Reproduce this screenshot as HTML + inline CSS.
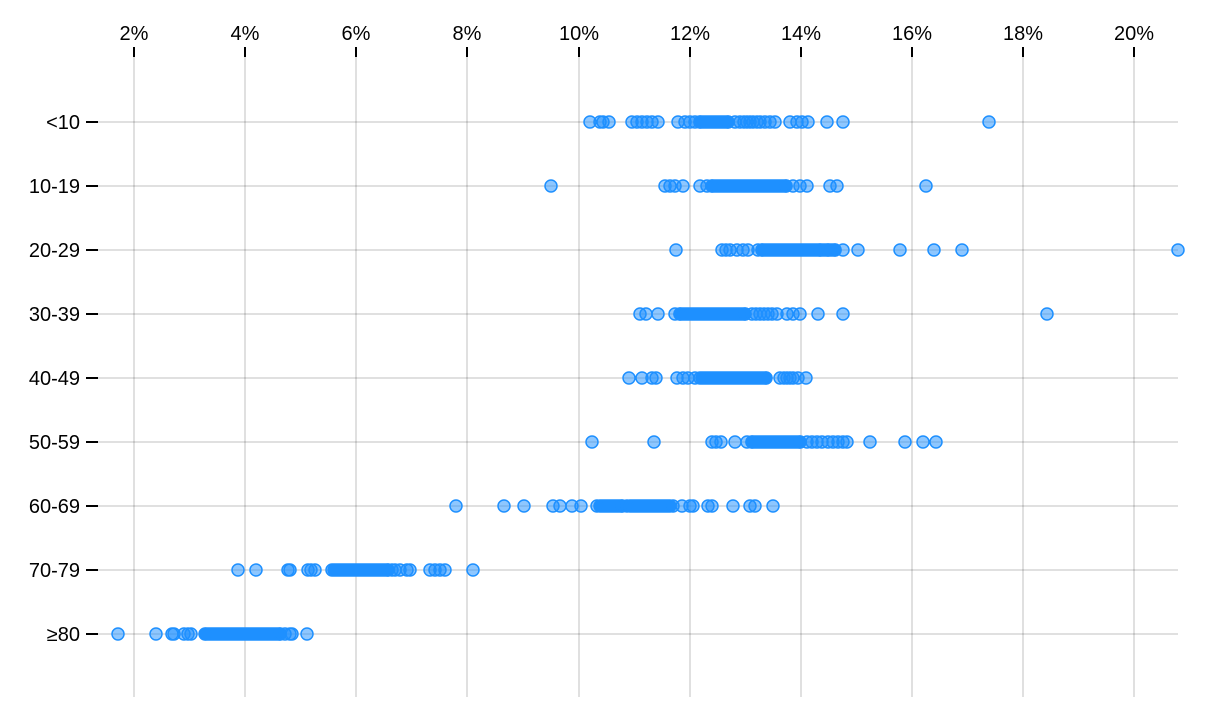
<!DOCTYPE html>
<html>
<head>
<meta charset="utf-8">
<style>
html,body{margin:0;padding:0;background:#fff;}
svg{display:block;}
text{font-family:"Liberation Sans",Arial,sans-serif;font-size:20px;fill:#000;}
.grid line{stroke:#000;stroke-opacity:0.12;stroke-width:2;}
.tick line{stroke:#000;stroke-width:2;}
circle{fill:#1e90ff;fill-opacity:0.5;stroke:#1e90ff;stroke-width:1.5;}
.seg{stroke:#1e90ff;stroke-width:13.5;stroke-linecap:round;}
</style>
</head>
<body>
<svg id="c" width="1216" height="716" viewBox="0 0 1216 716" xmlns="http://www.w3.org/2000/svg">
<g class="grid">
<line x1="134" y1="57" x2="134" y2="697"/>
<line x1="245" y1="57" x2="245" y2="697"/>
<line x1="356" y1="57" x2="356" y2="697"/>
<line x1="467" y1="57" x2="467" y2="697"/>
<line x1="579" y1="57" x2="579" y2="697"/>
<line x1="690" y1="57" x2="690" y2="697"/>
<line x1="801" y1="57" x2="801" y2="697"/>
<line x1="912" y1="57" x2="912" y2="697"/>
<line x1="1023" y1="57" x2="1023" y2="697"/>
<line x1="1134" y1="57" x2="1134" y2="697"/>
<line x1="98" y1="122" x2="1178" y2="122"/>
<line x1="98" y1="186" x2="1178" y2="186"/>
<line x1="98" y1="250" x2="1178" y2="250"/>
<line x1="98" y1="314" x2="1178" y2="314"/>
<line x1="98" y1="378" x2="1178" y2="378"/>
<line x1="98" y1="442" x2="1178" y2="442"/>
<line x1="98" y1="506" x2="1178" y2="506"/>
<line x1="98" y1="570" x2="1178" y2="570"/>
<line x1="98" y1="634" x2="1178" y2="634"/>
</g>
<g class="tick">
<line x1="134" y1="47" x2="134" y2="57"/><text x="134" y="40" text-anchor="middle">2%</text>
<line x1="245" y1="47" x2="245" y2="57"/><text x="245" y="40" text-anchor="middle">4%</text>
<line x1="356" y1="47" x2="356" y2="57"/><text x="356" y="40" text-anchor="middle">6%</text>
<line x1="467" y1="47" x2="467" y2="57"/><text x="467" y="40" text-anchor="middle">8%</text>
<line x1="579" y1="47" x2="579" y2="57"/><text x="579" y="40" text-anchor="middle">10%</text>
<line x1="690" y1="47" x2="690" y2="57"/><text x="690" y="40" text-anchor="middle">12%</text>
<line x1="801" y1="47" x2="801" y2="57"/><text x="801" y="40" text-anchor="middle">14%</text>
<line x1="912" y1="47" x2="912" y2="57"/><text x="912" y="40" text-anchor="middle">16%</text>
<line x1="1023" y1="47" x2="1023" y2="57"/><text x="1023" y="40" text-anchor="middle">18%</text>
<line x1="1134" y1="47" x2="1134" y2="57"/><text x="1134" y="40" text-anchor="middle">20%</text>

<line x1="86" y1="122" x2="98" y2="122"/><text x="80" y="129" text-anchor="end">&lt;10</text>
<line x1="86" y1="186" x2="98" y2="186"/><text x="80" y="193" text-anchor="end">10-19</text>
<line x1="86" y1="250" x2="98" y2="250"/><text x="80" y="257" text-anchor="end">20-29</text>
<line x1="86" y1="314" x2="98" y2="314"/><text x="80" y="321" text-anchor="end">30-39</text>
<line x1="86" y1="378" x2="98" y2="378"/><text x="80" y="385" text-anchor="end">40-49</text>
<line x1="86" y1="442" x2="98" y2="442"/><text x="80" y="449" text-anchor="end">50-59</text>
<line x1="86" y1="506" x2="98" y2="506"/><text x="80" y="513" text-anchor="end">60-69</text>
<line x1="86" y1="570" x2="98" y2="570"/><text x="80" y="577" text-anchor="end">70-79</text>
<line x1="86" y1="634" x2="98" y2="634"/><text x="80" y="641" text-anchor="end">≥80</text>
</g>

<!-- <10 -->
<g>
<line class="seg" x1="700" y1="122" x2="728" y2="122"/>
<circle cx="590" cy="122" r="6"/><circle cx="600" cy="122" r="6"/><circle cx="603" cy="122" r="6"/><circle cx="609" cy="122" r="6"/>
<circle cx="632" cy="122" r="6"/><circle cx="637" cy="122" r="6"/><circle cx="642" cy="122" r="6"/><circle cx="647" cy="122" r="6"/><circle cx="652" cy="122" r="6"/><circle cx="658" cy="122" r="6"/>
<circle cx="678" cy="122" r="6"/><circle cx="685" cy="122" r="6"/><circle cx="690" cy="122" r="6"/><circle cx="695" cy="122" r="6"/><circle cx="700" cy="122" r="6"/><circle cx="728" cy="122" r="6"/>
<circle cx="735" cy="122" r="6"/><circle cx="740" cy="122" r="6"/><circle cx="744" cy="122" r="6"/><circle cx="747" cy="122" r="6"/><circle cx="750" cy="122" r="6"/><circle cx="753" cy="122" r="6"/><circle cx="757" cy="122" r="6"/><circle cx="760" cy="122" r="6"/><circle cx="765" cy="122" r="6"/>
<circle cx="770" cy="122" r="6"/><circle cx="775" cy="122" r="6"/><circle cx="790" cy="122" r="6"/><circle cx="797" cy="122" r="6"/><circle cx="802" cy="122" r="6"/><circle cx="808" cy="122" r="6"/>
<circle cx="827" cy="122" r="6"/><circle cx="843" cy="122" r="6"/><circle cx="989" cy="122" r="6"/>
</g>
<!-- 10-19 -->
<g>
<line class="seg" x1="712" y1="186" x2="786" y2="186"/>
<circle cx="551" cy="186" r="6"/><circle cx="665" cy="186" r="6"/><circle cx="670" cy="186" r="6"/><circle cx="675" cy="186" r="6"/><circle cx="683" cy="186" r="6"/>
<circle cx="700" cy="186" r="6"/><circle cx="707" cy="186" r="6"/><circle cx="712" cy="186" r="6"/><circle cx="786" cy="186" r="6"/>
<circle cx="793" cy="186" r="6"/><circle cx="800" cy="186" r="6"/><circle cx="807" cy="186" r="6"/>
<circle cx="830" cy="186" r="6"/><circle cx="837" cy="186" r="6"/><circle cx="926" cy="186" r="6"/>
</g>
<!-- 20-29 -->
<g>
<line class="seg" x1="762" y1="250" x2="835" y2="250"/>
<circle cx="676" cy="250" r="6"/><circle cx="722" cy="250" r="6"/><circle cx="726" cy="250" r="6"/><circle cx="730" cy="250" r="6"/><circle cx="737" cy="250" r="6"/>
<circle cx="743" cy="250" r="6"/><circle cx="748" cy="250" r="6"/><circle cx="758" cy="250" r="6"/><circle cx="762" cy="250" r="6"/>
<circle cx="820" cy="250" r="6"/><circle cx="828" cy="250" r="6"/><circle cx="835" cy="250" r="6"/>
<circle cx="843" cy="250" r="6"/><circle cx="858" cy="250" r="6"/><circle cx="900" cy="250" r="6"/><circle cx="934" cy="250" r="6"/><circle cx="962" cy="250" r="6"/><circle cx="1178" cy="250" r="6"/>
</g>
<!-- 30-39 -->
<g>
<line class="seg" x1="680" y1="314" x2="745" y2="314"/>
<circle cx="640" cy="314" r="6"/><circle cx="646" cy="314" r="6"/><circle cx="658" cy="314" r="6"/><circle cx="675" cy="314" r="6"/><circle cx="680" cy="314" r="6"/>
<circle cx="745" cy="314" r="6"/><circle cx="752" cy="314" r="6"/><circle cx="756" cy="314" r="6"/><circle cx="760" cy="314" r="6"/><circle cx="764" cy="314" r="6"/><circle cx="768" cy="314" r="6"/><circle cx="772" cy="314" r="6"/><circle cx="777" cy="314" r="6"/>
<circle cx="787" cy="314" r="6"/><circle cx="793" cy="314" r="6"/><circle cx="800" cy="314" r="6"/><circle cx="818" cy="314" r="6"/><circle cx="843" cy="314" r="6"/><circle cx="1047" cy="314" r="6"/>
</g>
<!-- 40-49 -->
<g>
<line class="seg" x1="702" y1="378" x2="766" y2="378"/>
<circle cx="629" cy="378" r="6"/><circle cx="642" cy="378" r="6"/><circle cx="652" cy="378" r="6"/><circle cx="656" cy="378" r="6"/>
<circle cx="677" cy="378" r="6"/><circle cx="683" cy="378" r="6"/><circle cx="688" cy="378" r="6"/><circle cx="695" cy="378" r="6"/><circle cx="700" cy="378" r="6"/>
<circle cx="766" cy="378" r="6"/><circle cx="780" cy="378" r="6"/><circle cx="784" cy="378" r="6"/><circle cx="787" cy="378" r="6"/><circle cx="790" cy="378" r="6"/><circle cx="793" cy="378" r="6"/><circle cx="798" cy="378" r="6"/><circle cx="806" cy="378" r="6"/>
</g>
<!-- 50-59 -->
<g>
<line class="seg" x1="752" y1="442" x2="800" y2="442"/>
<circle cx="592" cy="442" r="6"/><circle cx="654" cy="442" r="6"/><circle cx="712" cy="442" r="6"/><circle cx="716" cy="442" r="6"/><circle cx="721" cy="442" r="6"/>
<circle cx="735" cy="442" r="6"/><circle cx="747" cy="442" r="6"/><circle cx="752" cy="442" r="6"/><circle cx="800" cy="442" r="6"/>
<circle cx="807" cy="442" r="6"/><circle cx="812" cy="442" r="6"/><circle cx="817" cy="442" r="6"/><circle cx="822" cy="442" r="6"/><circle cx="828" cy="442" r="6"/><circle cx="833" cy="442" r="6"/><circle cx="838" cy="442" r="6"/><circle cx="843" cy="442" r="6"/><circle cx="847" cy="442" r="6"/>
<circle cx="870" cy="442" r="6"/><circle cx="905" cy="442" r="6"/><circle cx="923" cy="442" r="6"/><circle cx="936" cy="442" r="6"/>
</g>
<!-- 60-69 -->
<g>
<line class="seg" x1="600" y1="506" x2="622" y2="506"/>
<line class="seg" x1="630" y1="506" x2="670" y2="506"/>
<circle cx="456" cy="506" r="6"/><circle cx="504" cy="506" r="6"/><circle cx="524" cy="506" r="6"/><circle cx="553" cy="506" r="6"/><circle cx="560" cy="506" r="6"/>
<circle cx="572" cy="506" r="6"/><circle cx="581" cy="506" r="6"/><circle cx="597" cy="506" r="6"/><circle cx="622" cy="506" r="6"/><circle cx="627" cy="506" r="6"/><circle cx="673" cy="506" r="6"/>
<circle cx="682" cy="506" r="6"/><circle cx="690" cy="506" r="6"/><circle cx="693" cy="506" r="6"/><circle cx="708" cy="506" r="6"/><circle cx="712" cy="506" r="6"/>
<circle cx="733" cy="506" r="6"/><circle cx="750" cy="506" r="6"/><circle cx="755" cy="506" r="6"/><circle cx="773" cy="506" r="6"/>
</g>
<!-- 70-79 -->
<g>
<line class="seg" x1="334" y1="570" x2="388" y2="570"/>
<circle cx="238" cy="570" r="6"/><circle cx="256" cy="570" r="6"/><circle cx="288" cy="570" r="6"/><circle cx="290" cy="570" r="6"/>
<circle cx="308" cy="570" r="6"/><circle cx="311" cy="570" r="6"/><circle cx="315" cy="570" r="6"/><circle cx="332" cy="570" r="6"/>
<circle cx="388" cy="570" r="6"/><circle cx="392" cy="570" r="6"/><circle cx="395" cy="570" r="6"/><circle cx="400" cy="570" r="6"/><circle cx="407" cy="570" r="6"/><circle cx="410" cy="570" r="6"/>
<circle cx="430" cy="570" r="6"/><circle cx="435" cy="570" r="6"/><circle cx="440" cy="570" r="6"/><circle cx="445" cy="570" r="6"/><circle cx="473" cy="570" r="6"/>
</g>
<!-- >=80 -->
<g>
<line class="seg" x1="206" y1="634" x2="280" y2="634"/>
<circle cx="118" cy="634" r="6"/><circle cx="156" cy="634" r="6"/><circle cx="172" cy="634" r="6"/><circle cx="174" cy="634" r="6"/>
<circle cx="184" cy="634" r="6"/><circle cx="188" cy="634" r="6"/><circle cx="191" cy="634" r="6"/><circle cx="205" cy="634" r="6"/>
<circle cx="280" cy="634" r="6"/><circle cx="285" cy="634" r="6"/><circle cx="290" cy="634" r="6"/><circle cx="292" cy="634" r="6"/><circle cx="307" cy="634" r="6"/>
</g>
</svg>
</body>
</html>
